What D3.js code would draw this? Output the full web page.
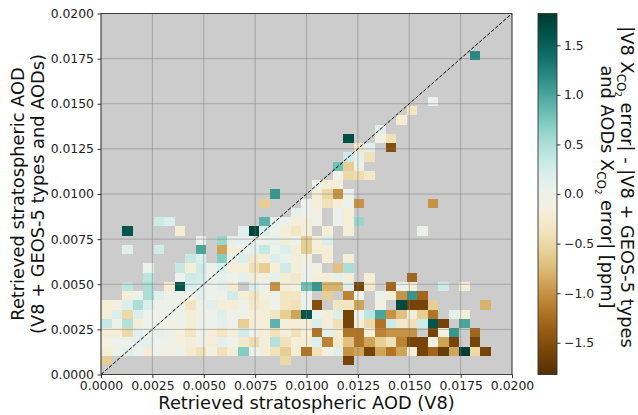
<!DOCTYPE html>
<html><head><meta charset="utf-8">
<script src="https://cdn.jsdelivr.net/npm/d3@7"></script>
<style>
body{margin:0;background:#fff;}
svg{display:block;font-family:"DejaVu Sans",sans-serif;}
</style></head>
<body><svg id="c" width="638" height="415"></svg>
<script>
const N = null;
const nBins = 39;
const axisDomain = [0, 0.02];
const tickValues = [0, 0.0025, 0.005, 0.0075, 0.01, 0.0125, 0.015, 0.0175, 0.02];
const colorDomain = [-1.82, 1.82];
const colorTicks = [-1.5, -1.0, -0.5, 0.0, 0.5, 1.0, 1.5];
const xLabel = "Retrieved stratospheric AOD (V8)";
const yLabel = ["Retrieved stratospheric AOD", "(V8 + GEOS-5 types and AODs)"];

// Dense rows (y-bin 1..11), 39 x-bins each; null = no data
const row01 = [-0.6,N,N,N,N,N,N,N,N,N, N,N,N,N,N,N,N,-0.5,N,N, N,N,N,-1.6,N,N,N,N,N,N, N,N,N,N,N,N,N,N,N];
const row02 = [-0.2,0,0.15,0.02,-0.2,0.02,-0.15,0,-0.25,-0.4, -0.15,-0.4,-0.2,0.7,0.02,-0.2,-0.4,-0.6,-0.2,-1.2, -0.4,-0.15,0.15,-1.0,-0.9,-1.6,-0.9,-1.2,-0.9,-0.2, -1.6,-1.3,-1.7,-0.9,1.8,-0.5,-1.6,N,N];
const row03 = [-0.15,0,0.02,0.12,0.12,0,0,-0.15,-0.2,0, -0.2,0.1,0,-0.3,-0.45,-0.2,0.45,-0.4,-0.2,-0.2, 0.2,-1.1,-0.3,-0.7,-1.2,-0.9,-0.6,-0.4,-1.1,-1.6, -1.6,-0.15,-0.9,-1.6,N,-1.6,N,N,N];
const row04 = [-0.2,-0.2,-0.5,0.15,0.03,0.1,0,-0.15,-0.35,0, -0.2,-0.35,-0.2,0.25,0.02,-0.2,-0.4,-0.2,-0.4,-0.2, -1.2,0.1,-0.25,-1.2,-1.2,-0.2,-1.1,-1.0,-1.0,-1.0, N,-1.6,-0.15,1.1,N,-1.3,N,N,N];
const row05 = [0.35,0,0.45,-0.2,0.02,0,-0.1,0,-0.2,0.02, 0,0.1,0,-0.6,-0.2,-0.2,0.9,-0.2,-0.2,-0.2, 0.2,-0.2,-0.4,-1.6,-0.2,-0.5,-1.2,0.3,-0.3,-0.4, 0.3,1.6,-1.6,N,1.0,N,N,N,N];
const row06 = [-0.2,0.2,-0.5,0.2,0.02,0,0,0,-0.2,0, 0.02,0.15,0,0,-0.2,-0.2,-0.35,-0.6,-0.9,1.6, 0.05,-0.2,0.2,-1.6,0,0.4,1.0,-1.0,-0.7,-0.2, -0.6,-1.2,N,0.1,-0.2,N,N,N,N];
const row07 = [-0.2,-0.15,0.2,0.5,0.2,0,0,0,-0.35,0, 0.15,-0.2,-0.2,0,-0.3,-0.2,0.02,-0.35,-0.4,0.02, -1.5,N,-0.35,-0.35,-0.9,N,-0.1,N,1.7,-1.6, -1.6,-0.6,N,N,N,N,-0.8,N,N];
const row08 = [N,N,-0.2,0.02,0.5,0.15,0.02,0,0,0.15, 0,0,0.25,-0.2,-0.35,-0.15,0.02,-0.35,-0.35,0.02, N,-0.6,N,-1.1,0,N,0,-0.2,-1.0,1.1, -1.3,N,N,N,N,N,N,N,N];
const row09 = [N,N,0.4,N,0.5,N,-0.25,1.6,0.2,0.15, 0,0.1,-0.25,N,0.2,0.02,-1.0,-0.2,-0.15,0.8, 1.1,-0.8,-0.8,0.15,-1.6,-0.3,N,-1.3,0.05,-0.2, N,N,0.3,N,-0.2,N,N,N,N];
const row10 = [N,N,N,N,0.4,N,N,0.02,0.3,0.25, 0.05,0.1,0.02,0.1,-0.2,-0.1,0.1,-0.2,-0.3,0.02, -0.2,-0.2,0.1,-0.2,N,-0.2,N,N,N,-1.3, N,N,N,N,N,N,N,N,N];
const row11 = [N,N,N,N,0.02,N,N,0.35,-0.2,0.3, 0.05,0.2,-0.2,-0.2,-0.4,-0.6,-0.2,0.3,-0.2,0, -0.1,N,-0.7,0.5,N,N,N,N,N,N, N,N,N,N,N,N,N,N,N];

// Sparse rows (y-bin 12..34): [x-bin, value]
const row12 = [[8,0.35],[9,0.2],[11,0.7],[12,0],[13,0.2],[14,-0.3],[15,-0.2],[16,0.2],[17,0.05],[18,-0.2],[19,-0.1],[21,-0.2],[23,-0.2]];
const row13 = [[2,0.15],[5,0.25],[9,1.0],[11,-0.9],[12,-0.2],[13,0],[14,0.15],[15,0.35],[16,0],[17,0.2],[18,-0.2],[19,-0.6],[20,-0.2],[21,-0.2]];
const row14 = [[9,0.02],[11,0.6],[12,0.1],[13,0.1],[14,0.02],[15,0.02],[16,0.1],[17,-0.2],[18,0.02],[19,-0.6],[20,-0.2],[21,0.2]];
const row15 = [[2,1.6],[7,-0.25],[13,0.15],[14,1.75],[15,0.2],[16,0.02],[17,-0.2],[18,-0.35],[19,-0.2],[21,-0.2],[23,-0.2],[30,0.05]];
const row16 = [[5,0.3],[6,0.2],[15,0.9],[16,0.1],[17,0.02],[18,-0.2],[19,-0.2],[20,0.02],[22,0.02],[23,-0.2],[24,0.6]];
const row17 = [[18,0.1],[19,0.02],[20,-0.15],[22,0.02],[23,-0.2]];
const row18 = [[15,-0.6],[19,0.02],[20,-0.2],[21,-0.4],[22,-0.2],[23,0.02],[24,-1.0],[31,-1.0]];
const row19 = [[16,1.1],[20,-0.2],[21,-0.5],[22,-1.0],[23,0]];
const row20 = [[20,0.02],[21,-0.2],[22,-0.2]];
const row21 = [[22,-0.05],[23,-0.5],[24,-0.45],[25,-0.3]];
const row22 = [[22,0.8],[23,-0.6],[24,0]];
const row23 = [[23,0.3],[24,0.1],[25,-0.4]];
const row24 = [[24,-0.3],[25,0.15],[27,-1.5]];
const row25 = [[23,1.65],[26,-0.1],[27,-0.4]];
const row26 = [[26,0.15]];
const row27 = [[28,-0.25]];
const row28 = [[29,-0.35]];
const row29 = [[31,0.05]];
const row30 = [];
const row31 = [];
const row32 = [];
const row33 = [];
const row34 = [[35,1.2]];

const denseRows = [row01,row02,row03,row04,row05,row06,row07,row08,row09,row10,row11];
const sparseRows = [row12,row13,row14,row15,row16,row17,row18,row19,row20,row21,row22,row23,row24,row25,row26,row27,row28,row29,row30,row31,row32,row33,row34];

const cells = [];
denseRows.forEach((arr, k) => arr.forEach((v, i) => { if (v !== null) cells.push({i, j: k + 1, v}); }));
sparseRows.forEach((arr, k) => arr.forEach(([i, v]) => cells.push({i, j: k + 12, v})));

const L = 101, R = 512, T = 13.5, B = 374.5;
const svg = d3.select("#c");
const xs = d3.scaleLinear().domain(axisDomain).range([L, R]);
const ys = d3.scaleLinear().domain(axisDomain).range([B, T]);
const cs = d3.scaleSequential(d3.interpolateBrBG).domain(colorDomain);
const bw = (axisDomain[1] - axisDomain[0]) / nBins;

svg.append("rect").attr("x", L).attr("y", T).attr("width", R - L).attr("height", B - T).attr("fill", "#cccccc");

svg.append("g").selectAll("rect").data(cells).join("rect")
  .attr("x", d => xs(d.i * bw))
  .attr("y", d => ys((d.j + 1) * bw))
  .attr("width", d => xs((d.i + 1) * bw) - xs(d.i * bw))
  .attr("height", d => ys(d.j * bw) - ys((d.j + 1) * bw))
  .attr("fill", d => cs(d.v))
  .attr("shape-rendering", "crispEdges");

// grid
const grid = svg.append("g").attr("stroke", "#7a7a7a").attr("stroke-opacity", 0.55).attr("stroke-width", 0.9);
grid.selectAll("line.v").data(tickValues).join("line").attr("class", "v")
  .attr("x1", d => xs(d)).attr("x2", d => xs(d)).attr("y1", T).attr("y2", B);
grid.selectAll("line.h").data(tickValues).join("line").attr("class", "h")
  .attr("y1", d => ys(d)).attr("y2", d => ys(d)).attr("x1", L).attr("x2", R);

// diagonal 1:1 line
svg.append("line").attr("x1", xs(0)).attr("y1", ys(0)).attr("x2", xs(0.02)).attr("y2", ys(0.02))
  .attr("stroke", "#000").attr("stroke-width", 1).attr("stroke-dasharray", "3.7,1.6");

// spines
svg.append("rect").attr("x", L).attr("y", T).attr("width", R - L).attr("height", B - T)
  .attr("fill", "none").attr("stroke", "#333").attr("stroke-width", 0.9);

const fmt = d3.format(".4f");
const xAxis = svg.append("g").attr("transform", `translate(0,${B})`)
  .call(d3.axisBottom(xs).tickValues(tickValues).tickFormat(fmt).tickSize(3.5).tickPadding(2.8));
const yAxis = svg.append("g").attr("transform", `translate(${L},0)`)
  .call(d3.axisLeft(ys).tickValues(tickValues).tickFormat(fmt).tickSize(3.5).tickPadding(3.5));
[xAxis, yAxis].forEach(a => {
  a.select(".domain").remove();
  a.selectAll("text").attr("font-size", "12.4px").attr("font-family", "DejaVu Sans").attr("fill", "#222");
  a.selectAll("line").attr("stroke", "#333");
});

svg.append("text").attr("x", (L + R) / 2).attr("y", 409).attr("text-anchor", "middle")
  .attr("font-size", "17.8px").attr("fill", "#111").text(xLabel);
const yl = svg.append("text").attr("transform", `translate(0,${(T + B) / 2}) rotate(-90)`)
  .attr("text-anchor", "middle").attr("font-size", "17.8px").attr("fill", "#111");
yl.append("tspan").attr("x", 0).attr("y", 24).text(yLabel[0]);
yl.append("tspan").attr("x", 0).attr("y", 44).text(yLabel[1]);

// colorbar
const cbL = 538, cbW = 19;
const cbScale = d3.scaleLinear().domain(colorDomain).range([B, T]);
const defs = svg.append("defs");
const grad = defs.append("linearGradient").attr("id", "cbg").attr("x1", 0).attr("y1", 1).attr("x2", 0).attr("y2", 0);
d3.range(0, 1.0001, 0.02).forEach(t => grad.append("stop").attr("offset", t).attr("stop-color", d3.interpolateBrBG(t)));
svg.append("rect").attr("x", cbL).attr("y", T).attr("width", cbW).attr("height", B - T).attr("fill", "url(#cbg)")
  .attr("stroke", "#333").attr("stroke-width", 0.9);
const cbAxis = svg.append("g").attr("transform", `translate(${cbL + cbW},0)`)
  .call(d3.axisRight(cbScale).tickValues(colorTicks).tickFormat(d => d3.format(".1f")(d).replace("-", "\u2212")).tickSize(3.5).tickPadding(3.5));
cbAxis.select(".domain").remove();
cbAxis.selectAll("text").attr("font-size", "12.4px").attr("font-family", "DejaVu Sans").attr("fill", "#222");
cbAxis.selectAll("line").attr("stroke", "#333");

// colorbar label: two lines, rotated 90deg, each centred manually
const cbLabelCenter = 187;
function cbLine(baseX, head, tail) {
  const t = svg.append("text").attr("font-size", "17.8px").attr("fill", "#111");
  const first = t.append("tspan").attr("x", 0).attr("y", 0).text(head);
  t.append("tspan").attr("font-size", "12px").attr("dy", 4).text("CO");
  t.append("tspan").attr("font-size", "8.5px").attr("dy", 2.5).text("2");
  t.append("tspan").attr("dy", -6.5).text(tail);
  const len = t.node().getComputedTextLength();
  t.attr("transform", `translate(${baseX},${cbLabelCenter - len / 2}) rotate(90)`);
}
cbLine(621, "|V8 X", " error| - |V8 + GEOS-5 types");
cbLine(601, "and AODs X", " error| [ppm]");
</script>
</body></html>
